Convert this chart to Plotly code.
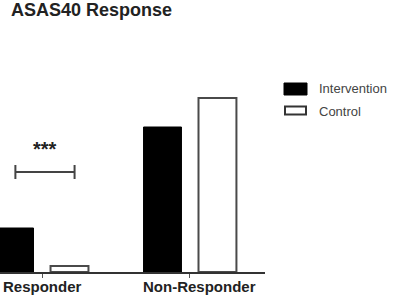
import plotly.graph_objects as go

categories = ["Responder", "Non-Responder"]
intervention = [22, 72.5]
control = [3, 87]
series_names = ["Intervention", "Control"]
significance = "***"
bracket_x = [-0.18, 0.22]
bracket_y = 50
stars_y = 55
label_shift = [0, 10]

BARGAP = 0.257
GROUPGAP = 0.31
FONT = "Liberation Sans, Arial"

fig = go.Figure()
fig.add_trace(go.Bar(x=categories, y=intervention, name=series_names[0],
                     marker=dict(color="black", line=dict(color="black", width=1))))
fig.add_trace(go.Bar(x=categories, y=control, name=series_names[1],
                     marker=dict(color="white", line=dict(color="#4a4a4a", width=2))))

# significance bracket over Responder group
lc = "#444444"
x0, x1 = bracket_x
fig.add_shape(type="line", xref="x", yref="y", x0=x0, x1=x1, y0=bracket_y, y1=bracket_y,
              line=dict(color=lc, width=2))
for xx in (x0, x1):
    fig.add_shape(type="line", xref="x", yref="y", x0=xx, x1=xx, y0=bracket_y - 3.5, y1=bracket_y + 3.5,
                  line=dict(color=lc, width=2))
fig.add_annotation(x=(x0 + x1) / 2, y=stars_y, xref="x", yref="y", text="<b>" + significance + "</b>",
                   showarrow=False, yanchor="bottom", font=dict(family=FONT, size=20, color="#222"))

# category labels
for i, (cat, sh) in enumerate(zip(categories, label_shift)):
    fig.add_annotation(x=i, y=0, xref="x", yref="paper", text="<b>" + cat + "</b>", showarrow=False,
                       yanchor="top", yshift=-4, xshift=sh,
                       font=dict(family=FONT, size=15, color="#222"))

# custom legend
PW, PH, BOT = 265.0, 232.0, 272.0
def px(x): return x / PW
def py(y): return (BOT - y) / PH
fig.add_shape(type="rect", xref="paper", yref="paper", x0=px(284), x1=px(307), y0=py(95), y1=py(83),
              fillcolor="black", line=dict(color="black", width=1))
fig.add_shape(type="rect", xref="paper", yref="paper", x0=px(285), x1=px(306), y0=py(114.5), y1=py(106.5),
              fillcolor="white", line=dict(color="#333", width=2))
for name, yc in zip(series_names, (89, 111)):
    fig.add_annotation(x=px(317), y=py(yc), xref="paper", yref="paper", text=name, showarrow=False,
                       xanchor="left", yanchor="middle",
                       font=dict(family=FONT, size=13, color="#444"))

fig.update_layout(
    width=400, height=300,
    margin=dict(l=0, r=135, t=40, b=28),
    paper_bgcolor="white", plot_bgcolor="white",
    barmode="group", bargap=BARGAP, bargroupgap=GROUPGAP,
    showlegend=False,
    title=dict(text="<b>ASAS40 Response</b>", xref="container", yref="container",
               x=11 / 400, xanchor="left", y=1 - 3 / 300, yanchor="top", pad=dict(t=0, b=0, l=0, r=0),
               font=dict(family=FONT, size=18, color="#222")),
    xaxis=dict(range=[-0.284, 1.507], showline=True, linecolor="#333", linewidth=2,
               ticks="outside", ticklen=4, tickwidth=1, tickcolor="#555",
               showgrid=False, zeroline=False, showticklabels=False),
    yaxis=dict(range=[0, 116], visible=False, showgrid=False, zeroline=False),
)

fig.write_html("out.html")
